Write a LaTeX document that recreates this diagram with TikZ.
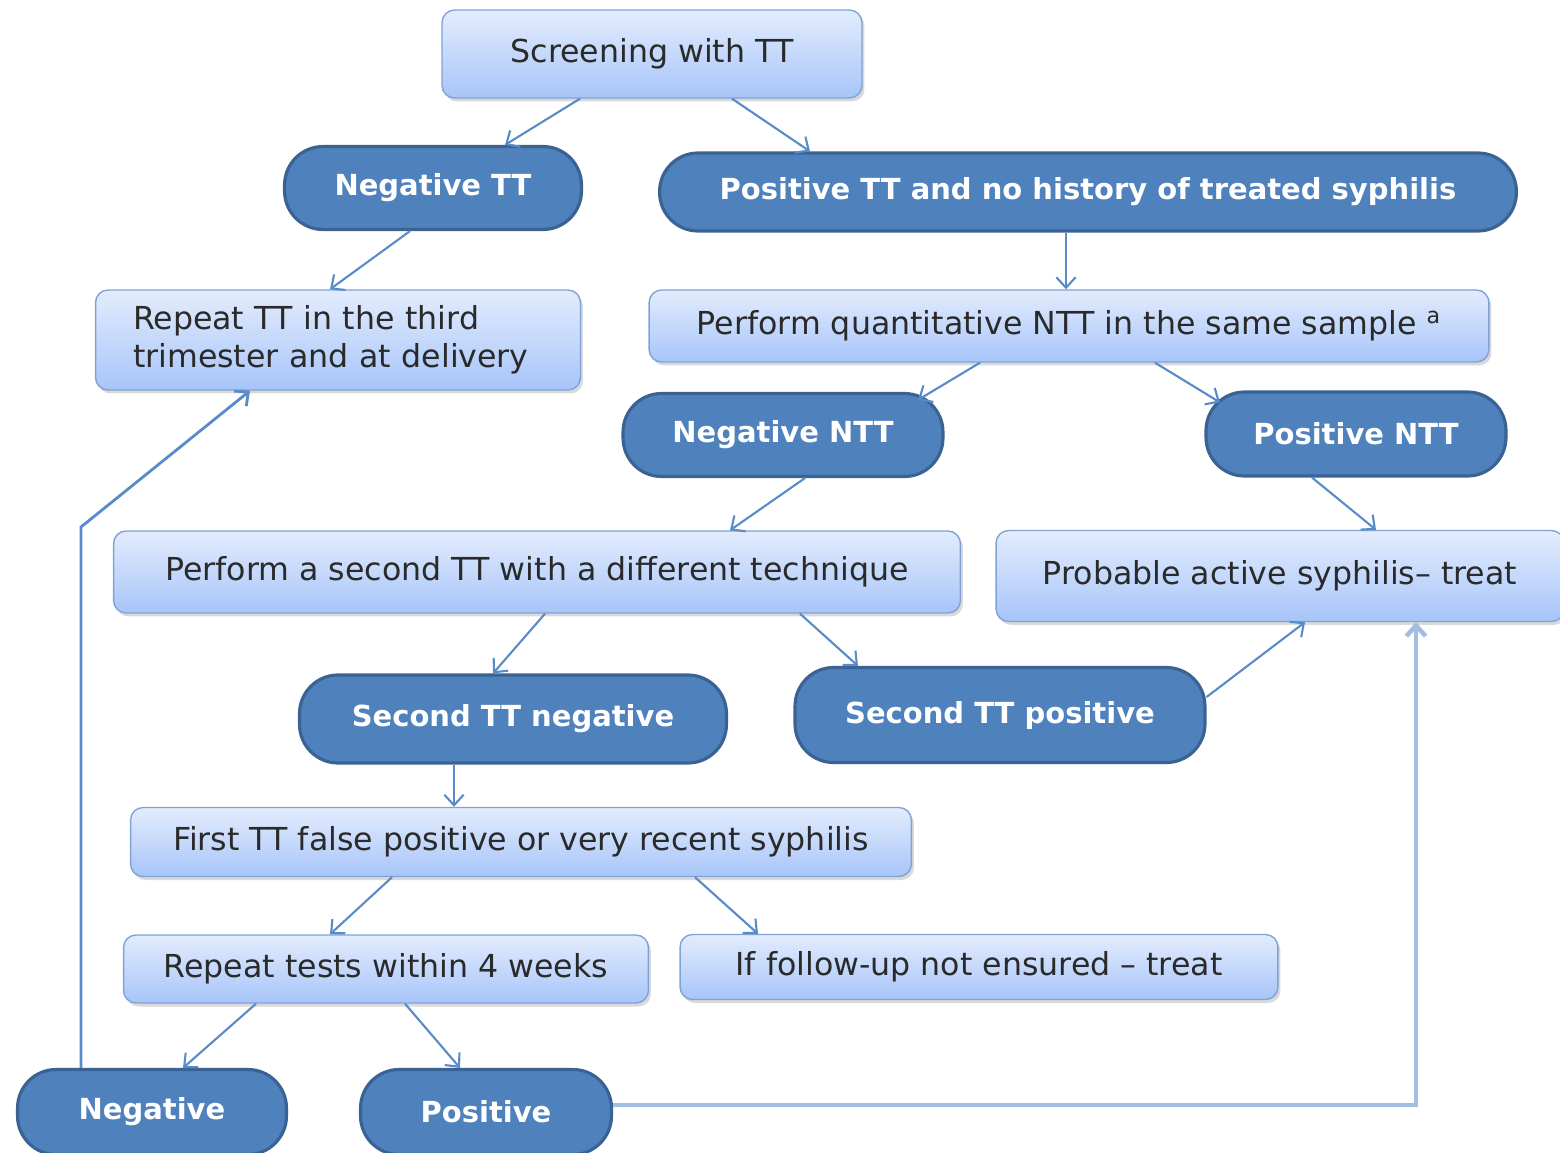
\documentclass[tikz,border=0pt]{standalone}
\usepackage{fontspec}
\setmainfont{DejaVu Sans}
\usetikzlibrary{positioning}
\usetikzlibrary{arrows.meta}
\usetikzlibrary{calc}
\usetikzlibrary{shadows}

\definecolor{boxtop}{HTML}{E3ECFD}
\definecolor{boxbot}{HTML}{A7C5F9}
\definecolor{boxline}{HTML}{7FA3D6}
\definecolor{pillfill}{HTML}{4F81BD}
\definecolor{pillline}{HTML}{3A6394}
\definecolor{arrowcol}{HTML}{5A8BC9}
\definecolor{paleline}{HTML}{A3BEE1}
\definecolor{textgray}{HTML}{2A2A2A}

\tikzset{
  lightbox/.style={draw=boxline, line width=0.8pt, rounded corners=0.25cm,
    top color=boxtop, bottom color=boxbot, text=textgray, inner sep=0pt,
    font=\fontsize{18}{21.5}\selectfont,
    drop shadow={shadow xshift=0.05cm, shadow yshift=-0.07cm, opacity=0.3}},
  pill/.style={draw=pillline, line width=1.8pt, fill=pillfill, rounded corners=0.77cm,
    text=white, inner sep=0pt, font=\fontsize{16.5}{20}\selectfont\bfseries},
  link/.style={draw=arrowcol, line width=1.2pt, -{Straight Barb[length=6pt,width=11pt]}},
}

\begin{document}
\begin{tikzpicture}[x=0.02cm, y=-0.02cm]
  \useasboundingbox (0,0) rectangle (1560,1153);

  % Define the boxes
  \node[lightbox, minimum width=8.4cm, minimum height=1.76cm] (screen) at (652,54) {Screening with TT};
  \node[pill, minimum width=5.94cm, minimum height=1.66cm] (negTT) at (433,188) {Negative TT};
  \node[pill, minimum width=17.14cm, minimum height=1.56cm] (posTT) at (1088,192) {Positive TT and no history of treated syphilis};
  \node[lightbox, minimum width=9.7cm, minimum height=2cm, text width=8.2cm, align=left] (repeatTT) at (338,340) {Repeat TT in the third\\trimester and at delivery};
  \node[lightbox, minimum width=16.8cm, minimum height=1.44cm] (perfNTT) at (1069,326) {Perform quantitative NTT in the same sample \textsuperscript{a}};
  \node[pill, minimum width=6.4cm, minimum height=1.66cm] (negNTT) at (783,435) {Negative NTT};
  \node[pill, minimum width=6cm, minimum height=1.68cm] (posNTT) at (1356,434) {Positive NTT};
  \node[lightbox, minimum width=16.94cm, minimum height=1.64cm] (secondTT) at (537,572) {Perform a second TT with a different technique};
  \node[lightbox, minimum width=11.36cm, minimum height=1.82cm] (probable) at (1280,576) {Probable active syphilis– treat};
  \node[pill, minimum width=8.54cm, minimum height=1.76cm] (secNeg) at (513,719) {Second TT negative};
  \node[pill, minimum width=8.2cm, minimum height=1.9cm] (secPos) at (1000,715) {Second TT positive};
  \node[lightbox, minimum width=15.62cm, minimum height=1.38cm] (falsePos) at (521,842) {First TT false positive or very recent syphilis};
  \node[lightbox, minimum width=10.5cm, minimum height=1.36cm] (repeatTests) at (386,969) {Repeat tests within 4 weeks};
  \node[lightbox, minimum width=11.96cm, minimum height=1.3cm] (followUp) at (979,967) {If follow-up not ensured – treat};
  \node[pill, minimum width=5.38cm, minimum height=1.7cm] (neg) at (152,1112) {Negative};
  \node[pill, minimum width=5.02cm, minimum height=1.7cm] (pos) at (486,1112) {Positive};
  \coordinate (bend) at (81,527);

  % Draw the arrows
  \draw[link] ($(screen.south)+(-72,0)$) -- ($(negTT.north)+(72,0)$);
  \draw[link] ($(screen.south)+(80,0)$) -- ($(posTT.north)+(-278,0)$);
  \draw[link] ($(negTT.south)+(-23,0)$) -- ($(repeatTT.north)+(-8,0)$);
  \draw[link] ($(posTT.south)+(-22,0)$) -- ($(perfNTT.north)+(-3,0)$);
  \draw[link] ($(perfNTT.south)+(-89,0)$) -- ($(negNTT.north)+(135,8)$);
  \draw[link] ($(perfNTT.south)+(86,0)$) -- ($(posNTT.north)+(-136,12)$);
  \draw[link] ($(negNTT.south)+(22,0)$) -- ($(secondTT.north)+(193,0)$);
  \draw[link] ($(posNTT.south)+(-44,0)$) -- ($(probable.north)+(96,0)$);
  \draw[link] ($(secondTT.south)+(8,0)$) -- ($(secNeg.north)+(-20,0)$);
  \draw[link] ($(secondTT.south)+(263,0)$) -- ($(secPos.north)+(-142,0)$);
  \draw[link] ($(secPos.east)+(0,-18)$) -- ($(probable.south)+(25,0)$);
  \draw[link] ($(secNeg.south)+(-59,0)$) -- ($(falsePos.north)+(-67,0)$);
  \draw[link] ($(falsePos.south)+(-129,0)$) -- ($(repeatTests.north)+(-56,0)$);
  \draw[link] ($(falsePos.south)+(174,0)$) -- ($(followUp.north)+(-221,0)$);
  \draw[link] ($(repeatTests.south)+(-130,0)$) -- ($(neg.north)+(31,0)$);
  \draw[link] ($(repeatTests.south)+(19,0)$) -- ($(pos.north)+(-26,0)$);
  \draw[link, line width=1.6pt] ($(neg.north)+(-71,0)$) -- (bend) -- ($(repeatTT.south)+(-88,0)$);
  \draw[link, draw=paleline, line width=2.6pt] ($(pos.east)+(0,-7)$) -| ($(probable.south)+(136,0)$);
\end{tikzpicture}
\end{document}
